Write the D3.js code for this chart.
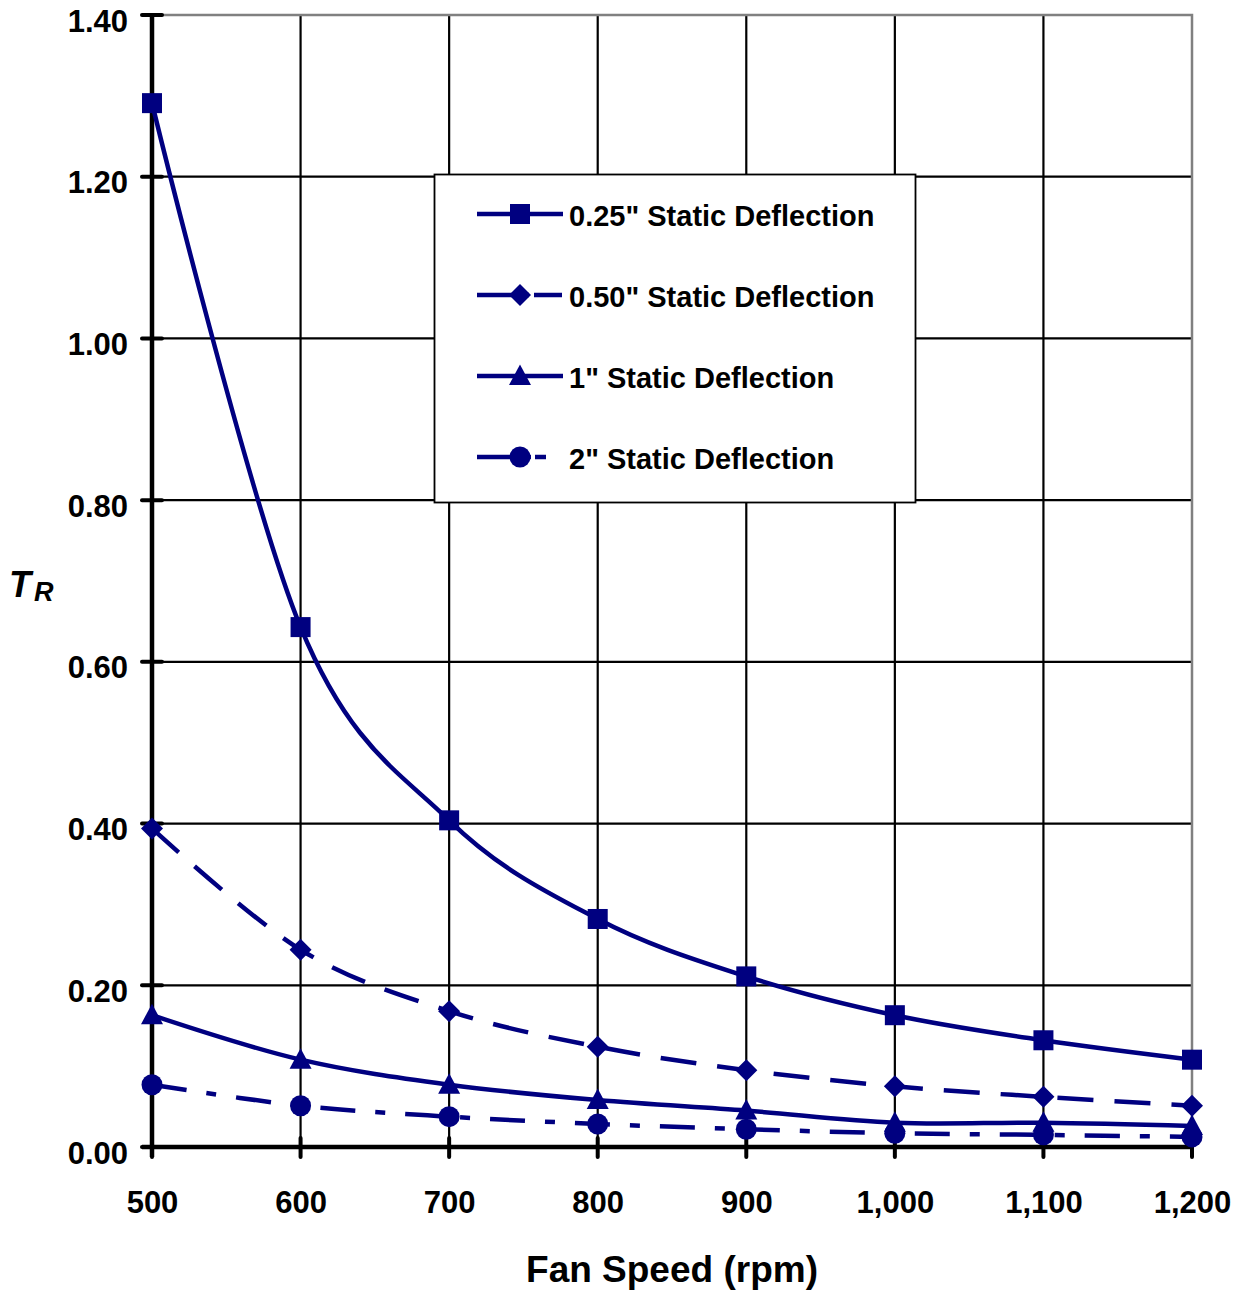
<!DOCTYPE html>
<html><head><meta charset="utf-8">
<script src="https://cdn.jsdelivr.net/npm/d3@7"></script>
<style>
html,body{margin:0;padding:0;background:#fff;}
svg text{font-family:"Liberation Sans",Arial,sans-serif;font-weight:bold;fill:#000;}
</style></head>
<body>
<svg id="chart" width="1246" height="1291"></svg>
<script>
const fanSpeeds = [500, 600, 700, 800, 900, 1000, 1100, 1200];
const xTicks = [500, 600, 700, 800, 900, 1000, 1100, 1200];
const yTicks = [0, 0.2, 0.4, 0.6, 0.8, 1.0, 1.2, 1.4];
const seriesNames = ['0.25" Static Deflection', '0.50" Static Deflection', '1" Static Deflection', '2" Static Deflection'];
const defl025 = [1.291, 0.643, 0.404, 0.282, 0.211, 0.163, 0.132, 0.108];
const defl050 = [0.394, 0.244, 0.168, 0.124, 0.095, 0.075, 0.062, 0.051];
const defl1   = [0.163, 0.108, 0.077, 0.058, 0.045, 0.030, 0.030, 0.026];
const defl2   = [0.077, 0.051, 0.0375, 0.0285, 0.022, 0.017, 0.015, 0.0125];

const seriesValues = [defl025, defl050, defl1, defl2];
const markers = ['square', 'diamond', 'triangle', 'circle'];
const dashes = [null, '36,21', null, '35,20,10,20'];
const legendDashes = [null, '52,5,28,100', null, '54,4,11,200'];
const color = '#000080';

const svg = d3.select('#chart');
const pLeft = 152, pRight = 1192, pTop = 15, pBottom = 1147;
const x = d3.scaleLinear().domain([500, 1200]).range([pLeft, pRight]);
const y = d3.scaleLinear().domain([0, 1.4]).range([pBottom, pTop]);

// grid
const g = svg.append('g');
g.selectAll('.vg').data(xTicks.slice(1, -1)).enter().append('line')
  .attr('x1', d => x(d)).attr('x2', d => x(d)).attr('y1', pTop).attr('y2', pBottom)
  .attr('stroke', '#000').attr('stroke-width', 2.2);
g.selectAll('.hg').data(yTicks.slice(1, -1)).enter().append('line')
  .attr('y1', d => y(d)).attr('y2', d => y(d)).attr('x1', pLeft).attr('x2', pRight)
  .attr('stroke', '#000').attr('stroke-width', 2.2);
// gray border top/right
g.append('path').attr('d', `M${pLeft},${pTop}H${pRight}V${pBottom}`)
  .attr('fill', 'none').attr('stroke', '#808080').attr('stroke-width', 2.5);

// axes
const xAxis = d3.axisBottom(x).tickValues(xTicks).tickSize(0).tickFormat(d3.format(','));
const yAxis = d3.axisLeft(y).tickValues(yTicks).tickSize(0).tickFormat(d3.format('.2f'));
const gx = svg.append('g').attr('transform', `translate(0,${pBottom})`).call(xAxis);
gx.select('.domain').remove();
gx.selectAll('text').attr('font-size', 31).attr('dy', null).attr('y', 66).attr('fill', '#000')
  .style('font-family', '"Liberation Sans",Arial,sans-serif').style('font-weight', 'bold');
const gy = svg.append('g').attr('transform', `translate(${pLeft},0)`).call(yAxis);
gy.select('.domain').remove();
gy.selectAll('text').attr('font-size', 31).attr('dy', null).attr('x', -24).attr('y', 16).attr('fill', '#000')
  .style('font-family', '"Liberation Sans",Arial,sans-serif').style('font-weight', 'bold');

// tick marks
svg.selectAll('.xt').data(xTicks).enter().append('line')
  .attr('x1', d => x(d)).attr('x2', d => x(d)).attr('y1', pBottom - 9).attr('y2', pBottom + 10)
  .attr('stroke', '#000').attr('stroke-width', 4).attr('stroke-linecap', 'round');
svg.selectAll('.yt').data(yTicks).enter().append('line')
  .attr('y1', d => y(d)).attr('y2', d => y(d)).attr('x1', pLeft - 10).attr('x2', pLeft + 10)
  .attr('stroke', '#000').attr('stroke-width', 4).attr('stroke-linecap', 'round');
// axis lines
svg.append('line').attr('x1', pLeft).attr('x2', pLeft).attr('y1', pTop).attr('y2', pBottom + 10)
  .attr('stroke', '#000').attr('stroke-width', 4.5);
svg.append('line').attr('x1', pLeft - 10).attr('x2', pRight).attr('y1', pBottom).attr('y2', pBottom)
  .attr('stroke', '#000').attr('stroke-width', 4.5);

// titles
svg.append('text').attr('x', 672).attr('y', 1282).attr('text-anchor', 'middle')
  .attr('font-size', 37).text('Fan Speed (rpm)');
const yt = svg.append('text').attr('x', 9).attr('y', 597).attr('font-size', 36).attr('font-style', 'italic');
yt.append('tspan').text('T');
yt.append('tspan').attr('font-size', 27).attr('dx', 3).attr('dy', 4).text('R');

// marker drawer
function drawMarker(sel, type, cx, cy) {
  if (type === 'square') {
    sel.append('rect').attr('x', cx - 10).attr('y', cy - 10).attr('width', 20).attr('height', 20).attr('fill', color);
  } else if (type === 'diamond') {
    sel.append('path').attr('d', `M${cx},${cy - 11}L${cx + 11},${cy}L${cx},${cy + 11}L${cx - 11},${cy}Z`).attr('fill', color);
  } else if (type === 'triangle') {
    sel.append('path').attr('d', `M${cx},${cy - 11.5}L${cx + 11},${cy + 9}L${cx - 11},${cy + 9}Z`).attr('fill', color);
  } else {
    sel.append('circle').attr('cx', cx).attr('cy', cy).attr('r', 10.5).attr('fill', color);
  }
}

// lines
const line = d3.line().x(d => x(d[0])).y(d => y(d[1])).curve(d3.curveCatmullRom.alpha(0));
seriesValues.forEach((vals, i) => {
  const pts = fanSpeeds.map((f, j) => [f, vals[j]]);
  svg.append('path').datum(pts).attr('d', line)
    .attr('fill', 'none').attr('stroke', color).attr('stroke-width', 4.5)
    .attr('stroke-dasharray', dashes[i]);
});
seriesValues.forEach((vals, i) => {
  const mg = svg.append('g');
  fanSpeeds.forEach((f, j) => drawMarker(mg, markers[i], x(f), y(vals[j])));
});

// legend
const lg = svg.append('g');
lg.append('rect').attr('x', 434.5).attr('y', 174.5).attr('width', 481).attr('height', 328)
  .attr('fill', '#fff').attr('stroke', '#000').attr('stroke-width', 1.8);
const rowY = [214, 295, 376, 457];
seriesNames.forEach((name, i) => {
  lg.append('line').attr('x1', 477).attr('x2', 563).attr('y1', rowY[i]).attr('y2', rowY[i])
    .attr('stroke', color).attr('stroke-width', 4.5).attr('stroke-dasharray', legendDashes[i]);
  drawMarker(lg, markers[i], 520, rowY[i]);
  lg.append('text').attr('x', 569).attr('y', rowY[i] + 12).attr('font-size', 29).text(name);
});
</script>
</body></html>
